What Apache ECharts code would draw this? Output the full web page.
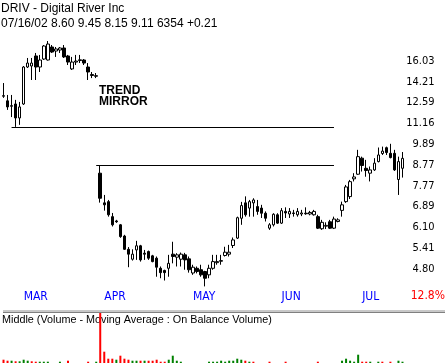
<!DOCTYPE html>
<html><head><meta charset="utf-8">
<script src="https://cdn.jsdelivr.net/npm/echarts@6/dist/echarts.min.js"></script>
<style>html,body{margin:0;padding:0;background:#fff}#c{width:446px;height:363px}</style>
</head><body><div id="c"></div>
<script>
// ---- data ----
const dates = ['02/22','02/25','02/26','02/27','02/28',
'03/01','03/04','03/05','03/06','03/07','03/08','03/11','03/12','03/13','03/14','03/15','03/18','03/19','03/20','03/21','03/22','03/25','03/26','03/27','03/28',
'04/01','04/02','04/03','04/04','04/05','04/08','04/09','04/10','04/11','04/12','04/15','04/16','04/17','04/18','04/19','04/22','04/23','04/24','04/25','04/26','04/29','04/30',
'05/01','05/02','05/03','05/06','05/07','05/08','05/09','05/10','05/13','05/14','05/15','05/16','05/17','05/20','05/21','05/22','05/23','05/24','05/28','05/29','05/30','05/31',
'06/03','06/04','06/05','06/06','06/07','06/10','06/11','06/12','06/13','06/14','06/17','06/18','06/19','06/20','06/21','06/24','06/25','06/26','06/27','06/28',
'07/01','07/02','07/03','07/05','07/08','07/09','07/10','07/11','07/12','07/15','07/16'];

const open = [13.05,12.71,12.36,12.48,11.51,12.48,15.46,15.55,16.48,15.46,
16.19,16.10,17.36,16.96,17.06,17.26,16.48,15.29,15.91,16.05,
16.10,15.46,14.80,14.70,8.36,7.04,7.09,6.50,6.34,6.20,
5.81,5.38,5.08,5.36,5.49,5.26,5.31,5.18,5.11,4.82,
4.76,4.82,5.23,5.14,5.08,5.21,5.09,4.69,4.82,4.78,
4.73,4.64,4.82,4.98,5.02,5.19,5.23,5.50,5.74,6.44,
7.04,6.83,7.04,6.89,6.83,6.63,6.08,6.20,6.57,6.26,
6.70,6.60,6.64,6.57,6.60,6.63,6.60,6.57,6.50,6.06,
6.15,6.31,6.08,6.32,6.74,7.09,7.30,8.09,8.31,9.12,
8.60,8.36,8.52,8.94,9.37,9.69,9.38,9.38,8.06,8.60];
const close = [13.10,12.27,12.32,11.51,12.27,15.46,15.82,15.82,15.46,16.10,
17.46,17.66,16.86,17.16,17.26,16.39,15.91,15.91,16.00,16.12,
15.82,15.02,14.72,14.66,7.23,6.96,6.57,6.20,6.31,5.79,
5.38,5.23,5.23,5.49,5.06,5.23,5.11,5.01,4.85,4.70,
4.70,4.96,5.16,5.21,5.23,5.06,4.78,4.85,4.73,4.64,
4.55,4.82,5.01,5.01,5.04,5.29,5.29,5.68,6.46,6.93,
6.57,7.09,7.16,6.70,6.63,6.44,6.20,6.59,6.26,6.73,
6.64,6.70,6.62,6.70,6.64,6.61,6.66,6.70,6.08,6.29,
6.18,6.08,6.41,6.38,6.96,7.72,7.96,8.18,9.20,8.74,
8.49,8.52,8.86,9.29,9.50,9.42,9.15,8.52,8.94,9.11];
const low = [12.93,12.06,11.57,10.93,11.06,12.41,15.37,14.34,14.34,15.02,
16.10,16.05,16.77,16.39,16.77,16.29,15.64,15.20,15.64,15.82,
15.64,14.34,14.50,14.50,7.05,6.73,6.50,6.14,6.27,5.75,
5.36,4.85,5.04,5.06,5.01,5.06,5.06,4.99,4.59,4.55,
4.49,4.59,4.96,4.87,4.87,4.78,4.70,4.64,4.68,4.59,
4.34,4.55,4.78,4.92,4.92,5.16,5.16,5.42,5.71,6.20,
6.50,6.50,6.50,6.57,6.45,6.32,6.02,6.14,6.23,6.23,
6.45,6.45,6.50,6.50,6.52,6.57,6.55,6.54,6.05,6.02,
6.05,6.05,6.05,6.29,6.50,7.04,7.20,7.97,8.28,8.44,
8.19,7.97,8.47,8.90,9.29,9.29,9.11,8.47,7.37,8.15];
const high = [14.09,13.15,13.15,12.78,12.63,15.55,16.29,16.29,16.77,16.58,
17.56,17.97,17.56,17.36,17.36,17.56,16.58,16.39,16.58,16.58,
16.19,15.82,15.02,14.93,8.75,7.37,7.16,6.64,6.38,6.23,
5.85,5.45,5.38,5.65,5.52,5.36,5.34,5.21,5.16,4.87,
4.78,5.21,5.62,5.26,5.28,5.27,5.16,4.92,4.87,4.92,
4.75,4.92,5.21,5.21,5.21,5.46,5.52,5.76,6.50,7.08,
7.31,7.16,7.23,7.16,6.96,6.70,6.26,6.63,6.63,6.83,
6.86,6.83,6.76,6.83,6.76,6.86,6.72,6.76,6.57,6.38,
6.29,6.38,6.50,6.44,7.09,7.81,8.04,8.36,9.57,9.20,
9.03,8.69,9.12,9.70,9.75,9.75,9.91,9.57,9.20,9.45];

// volume minus moving average (relative units), up days / down days
const volUp = [0,0,2.3,0,1.7,3.3,2.3,0,0,1.3,
1.3,1.3,0,0,1.3,0,0,0,0,0,
0,0,0,1.3,0,0,0,0,3.3,0,
0,0,2.3,2.3,0,2.3,0,0,0,0,
0,3.3,7.3,2.3,1.3,0,0,0,0,0,
0,1.3,1.3,1.3,2.3,1.3,2.3,2.3,4.3,3.3,
0,1.3,0,0,0,0,0,0,0,0,
0,0,0,0,0,0,0,0,0,0,
0,0,0,0,2.3,4.3,2.3,1.3,8.3,0,
0,1.3,0,1.3,0,0,0,0,2.3,1.3];
const volDown = [3.3,2.3,0,1.7,0,0,0,1.7,1.3,0,
0,0,0,0,0,0,2.3,0,0,0,
0,1.3,0,0,52,11.3,4.3,4.3,0,7.3,
4.3,3.3,0,0,2.3,0,2.3,2.3,3.3,1.3,
1.3,0,0,0,0,0,0,0,0,0,
0,0,0,0,0,0,0,0,0,0,
2.3,0,1.3,0,0,0,1.3,0,0,0,
1.3,0,0,0,0,0,0,0,1.3,0,
0,0,0,0,0,0,0,0,0,1.3,
1.3,0,0,0,1.3,0,1.3,0,0,0];

const priceTicks = [4.80,5.41,6.10,6.89,7.77,8.77,9.89,11.16,12.59,14.21,16.03];
const monthLabels = ['MAR','APR','MAY','JUN','JUL'];
const trendLevels = [10.93, 8.75];
const trendFrom = ['02/26','03/27'];
const trendTo = ['06/20','06/20'];

// ---- chart ----
const STEP = Math.log(1.128);
const toStep = p => Math.log(p / priceTicks[0]) / STEP;
const NARROW = "'Liberation Sans Narrow','Arial Narrow','DejaVu Sans Condensed',sans-serif";
const SANS = "'Liberation Sans',Arial,sans-serif";

const candles = dates.map((d, i) => [toStep(open[i]), toStep(close[i]), toStep(low[i]), toStep(high[i])]);
const last = dates.length - 1;
const headerLine = '07/16/02 ' + [open[last], high[last], low[last], close[last]].map(v => v.toFixed(2)).join(' ') + ' 6354 +0.21';

const chart = echarts.init(document.getElementById('c'), null, {renderer: 'canvas'});
chart.setOption({
  animation: false,
  backgroundColor: '#fff',
  title: [
    {text: 'DRIV - Digital River Inc', subtext: headerLine, left: 1, top: 3, padding: 0, itemGap: 3,
     textStyle: {fontSize: 12, fontWeight: 'normal', color: '#000', fontFamily: SANS},
     subtextStyle: {fontSize: 12, color: '#000', fontFamily: SANS}},
    {text: 'TREND\nMIRROR', left: 99, top: 85, padding: 0,
     textStyle: {fontSize: 12, fontWeight: 'bold', color: '#000', fontFamily: SANS, lineHeight: 11}},
    {text: 'Middle (Volume - Moving Average : On Balance Volume)', left: 2, top: 315, padding: 0, z: 0,
     textStyle: {fontSize: 10.8, fontWeight: 'normal', color: '#000', fontFamily: SANS}},
    {text: '12.8%', right: 1, top: 290, padding: 0,
     textStyle: {fontSize: 12, fontWeight: 'normal', color: '#ff0000', fontFamily: NARROW}}
  ],
  graphic: [
    {type: 'rect', left: 3, top: 310, z: 0, shape: {width: 442, height: 2}, style: {fill: '#c8c8c8'}},
    {type: 'rect', left: 3, top: 312, z: 0, shape: {width: 442, height: 1}, style: {fill: '#808080'}}
  ],
  grid: [
    {left: 1.5, top: 19.4, width: 403, height: 270.4, containLabel: false, outerBoundsMode: 'none'},
    {left: 1.5, top: 313, width: 403, height: 50, containLabel: false, outerBoundsMode: 'none'}
  ],
  xAxis: [
    {type: 'category', gridIndex: 0, data: dates, boundaryGap: true,
     axisLine: {show: false}, axisTick: {show: false}, splitLine: {show: false},
     axisLabel: {
       interval: (i, v) => i > 0 && v.slice(0, 2) !== dates[i - 1].slice(0, 2),
       formatter: v => monthLabels[parseInt(v.slice(0, 2), 10) - 3] || '',
       color: '#0000ff', fontSize: 12, fontFamily: NARROW, align: 'left', margin: 1
     }},
    {type: 'category', gridIndex: 1, data: dates, boundaryGap: true, show: false}
  ],
  yAxis: [
    {type: 'value', gridIndex: 0, position: 'right', min: -1, max: 12, interval: 1,
     axisLine: {show: false}, axisTick: {show: false}, splitLine: {show: false},
     axisLabel: {
       formatter: v => { const t = priceTicks[Math.round(v)]; return t === undefined ? '' : t.toFixed(2); },
       align: 'right', margin: 30, fontSize: 11, color: '#000', fontFamily: NARROW
     }},
    {type: 'value', gridIndex: 1, min: 0, max: 50, show: false}
  ],
  series: [
    {type: 'candlestick', xAxisIndex: 0, yAxisIndex: 0, data: candles, barWidth: 3,
     itemStyle: {color: '#fff', color0: '#000', borderColor: '#000', borderColor0: '#000', borderWidth: 1},
     markLine: {
       symbol: ['none', 'none'], silent: true, label: {show: false},
       lineStyle: {color: '#000', width: 1, type: 'solid'},
       emphasis: {disabled: true},
       data: trendLevels.map((lv, i) => [{coord: [trendFrom[i], toStep(lv)]}, {coord: [trendTo[i], toStep(lv)]}])
     }},
    {type: 'bar', xAxisIndex: 1, yAxisIndex: 1, data: volUp, barWidth: 2, itemStyle: {color: '#008000'}},
    {type: 'bar', xAxisIndex: 1, yAxisIndex: 1, data: volDown, barWidth: 2, barGap: '-100%', itemStyle: {color: '#ff0000'}}
  ]
});
</script></body></html>
